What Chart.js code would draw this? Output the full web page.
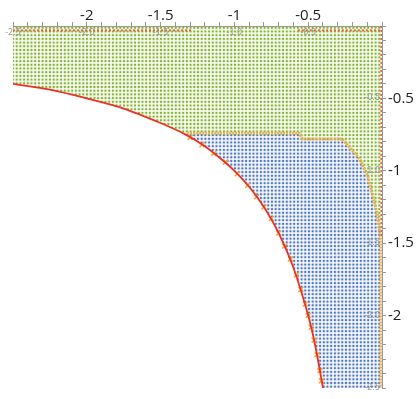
<!DOCTYPE html>
<html>
<head>
<meta charset="utf-8">
<script src="https://cdn.jsdelivr.net/npm/chart.js@4.4.1/dist/chart.umd.min.js"></script>
<style>
  html, body { margin: 0; padding: 0; background: #fff; }
  #wrap { width: 417px; height: 399px; position: relative; }
</style>
</head>
<body>
<div id="wrap"><canvas id="c"></canvas></div>
<script>
// axis ticks (values where labels are shown)
const xLabels = [-2, -1.5, -1, -0.5];
const yLabels = [-0.5, -1, -1.5, -2];
// small grey labels inside the plot
const innerTopLabels = [-2.5, -2.0, -1.5, -1.0, -0.5];
const innerRightLabels = [-0.5, -1.0, -1.5, -2.0, -2.5];

// red curve
const curveX = [-2.5, -2.25, -2, -1.75, -1.5, -1.33, -1.2, -1.1, -1, -0.9, -0.8, -0.7, -0.6, -0.5, -0.45, -0.4];
const curveY = [-0.4, -0.44, -0.5, -0.57, -0.67, -0.75, -0.83, -0.91, -1, -1.11, -1.25, -1.43, -1.67, -2, -2.22, -2.5];

// orange x markers along the curve (blue part)
const markX = [-1.3, -1.22, -1.14, -1.06, -0.98, -0.91, -0.85, -0.8, -0.75, -0.7, -0.66, -0.62, -0.58, -0.55, -0.52, -0.5, -0.48, -0.46, -0.44, -0.42, -0.41];
const markY = [-0.77, -0.82, -0.88, -0.94, -1.02, -1.1, -1.18, -1.25, -1.33, -1.43, -1.52, -1.61, -1.72, -1.82, -1.92, -2.0, -2.08, -2.17, -2.27, -2.38, -2.45];

// green region outline
const greenX = [-2.5, 0, 0, -0.014, -0.034, -0.068, -0.095, -0.15, -0.27, -0.54, -0.56, -1.34, -1.5, -1.75, -2, -2.25, -2.5];
const greenY = [0, 0, -1.45, -1.43, -1.29, -1.15, -1.04, -0.92, -0.78, -0.78, -0.74, -0.74, -0.67, -0.57, -0.5, -0.44, -0.4];

// blue region outline
const blueX = [-1.34, -0.56, -0.54, -0.27, -0.15, -0.095, -0.068, -0.034, -0.014, -0.01, -0.4, -0.45, -0.5, -0.6, -0.7, -0.8, -0.9, -1, -1.1, -1.2, -1.34];
const blueY = [-0.74, -0.74, -0.78, -0.78, -0.92, -1.04, -1.15, -1.29, -1.43, -2.5, -2.5, -2.22, -2, -1.67, -1.43, -1.25, -1.11, -1, -0.91, -0.83, -0.74];

// yellow boundary between the regions
const edgeX = [-1.32, -0.56, -0.54, -0.27, -0.15, -0.095, -0.068, -0.034, -0.014, -0.007, -0.007];
const edgeY = [-0.74, -0.74, -0.78, -0.78, -0.92, -1.04, -1.15, -1.29, -1.43, -1.5, -2.5];

// red dotted border rows
const topRedLeftX = [-2.5, -1.28];
const topRedRightX = [-0.57, 0];
const topRedY = [-0.03, -0.03];
const rightRedX = [-0.004, -0.004];
const rightRedY = [0, -1.45];

const pts = (xs, ys) => xs.map((x, i) => ({ x, y: ys[i] }));

const dotPattern = (color) => {
    const t = document.createElement('canvas');
    t.width = 4; t.height = 4;
    const g = t.getContext('2d');
    g.fillStyle = color;
    g.fillRect(0.8, 0.8, 2.4, 2.4);
    const p = g.createPattern(t, 'repeat');
    if (p.setTransform) p.setTransform(new DOMMatrix().scale(0.925));
    return p;
};

const innerLabels = {
    id: 'innerLabels',
    afterDatasetsDraw(chart) {
        const { ctx, scales } = chart;
        ctx.save();
        ctx.font = '8px "DejaVu Sans"';
        ctx.fillStyle = '#9a9a9a';
        ctx.textAlign = 'center';
        ctx.textBaseline = 'middle';
        const y0 = scales.y.getPixelForValue(0) + 7;
        innerTopLabels.forEach(v => ctx.fillText(v.toFixed(1), scales.x.getPixelForValue(v), y0));
        ctx.textAlign = 'right';
        const x0 = scales.x.getPixelForValue(0) - 2;
        innerRightLabels.forEach(v => ctx.fillText(v.toFixed(1), x0, scales.y.getPixelForValue(v)));
        ctx.restore();
    }
};

const isLabel = (v, list) => list.some(l => Math.abs(l - v) < 1e-6);

const axisCommon = {
    type: 'linear',
    min: -2.5,
    max: 0,
    border: { color: '#999', width: 1 },
    grid: { drawOnChartArea: false, drawTicks: true, tickLength: 4, tickColor: '#999' },
};

const redDots = { borderColor: 'rgba(238,70,50,0.85)', borderWidth: 2, borderDash: [2, 2], pointRadius: 0, order: 2, showLine: true, fill: false };

new Chart(document.getElementById('c'), {
    type: 'scatter',
    data: {
        datasets: [
            {
                data: pts(greenX, greenY), showLine: true, fill: 'shape',
                backgroundColor: dotPattern('rgb(132,180,50)'),
                borderWidth: 0, pointRadius: 0, order: 5
            },
            {
                data: pts(blueX, blueY), showLine: true, fill: 'shape',
                backgroundColor: dotPattern('rgb(80,120,192)'),
                borderWidth: 0, pointRadius: 0, order: 4
            },
            {
                data: pts(edgeX, edgeY), showLine: true, fill: false,
                borderColor: 'rgba(232,172,60,0.9)', borderWidth: 3, borderDash: [2, 1],
                pointRadius: 0, order: 3
            },
            { data: pts(topRedLeftX, topRedY), ...redDots },
            { data: pts(topRedRightX, topRedY), ...redDots },
            { data: pts(rightRedX, rightRedY), ...redDots },
            {
                data: pts(markX, markY), showLine: false,
                pointStyle: 'crossRot', pointRadius: 3.5, borderWidth: 1.5,
                borderColor: 'rgb(245,165,55)', order: 1
            },
            {
                data: pts(curveX, curveY), showLine: true, fill: false,
                borderColor: 'rgb(236,50,35)', borderWidth: 1.8, tension: 0.3,
                pointRadius: 0, order: 0
            }
        ]
    },
    options: {
        responsive: true,
        maintainAspectRatio: false,
        animation: false,
        layout: { padding: { left: 13, bottom: 3, top: 0, right: 0 } },
        plugins: { legend: { display: false }, tooltip: { enabled: false } },
        scales: {
            x: {
                ...axisCommon,
                position: 'top',
                afterFit: s => { s.height = 26; },
                ticks: {
                    stepSize: 0.1, maxTicksLimit: 100, autoSkip: false, maxRotation: 0,
                    padding: -3, color: '#222', font: { family: 'Open Sans', size: 15 },
                    callback: v => (isLabel(v, xLabels) ? String(Math.round(v * 10) / 10) : '')
                }
            },
            y: {
                ...axisCommon,
                position: 'right',
                afterFit: s => { s.width = 35; },
                ticks: {
                    stepSize: 0.1, maxTicksLimit: 100, autoSkip: false,
                    padding: 2, color: '#222', font: { family: 'Open Sans', size: 15 },
                    callback: v => (isLabel(v, yLabels) ? String(Math.round(v * 10) / 10) : '')
                }
            }
        }
    },
    plugins: [innerLabels]
});
</script>
</body>
</html>
